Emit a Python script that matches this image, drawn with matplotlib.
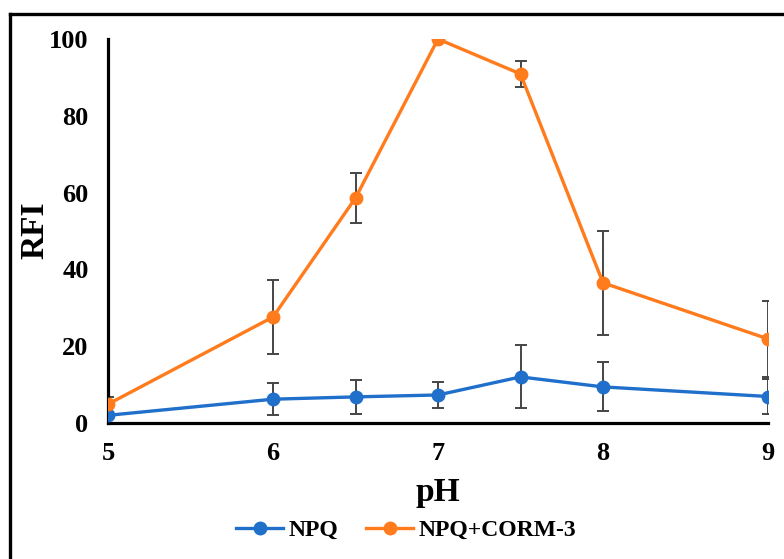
import matplotlib
matplotlib.use('Agg')
import matplotlib.pyplot as plt
from matplotlib.lines import Line2D

plt.rcParams['font.family'] = ['Liberation Serif', 'DejaVu Serif']
plt.rcParams['font.weight'] = 'bold'

# fluorescence vs pH
ph = [5, 6, 6.5, 7, 7.5, 8, 9]
npq = [2.0, 6.2, 6.8, 7.3, 12.0, 9.4, 6.9]
npq_err = [0.0, 4.1, 4.4, 3.4, 8.2, 6.4, 4.6]
corm = [4.9, 27.6, 58.6, 100.0, 90.9, 36.5, 21.9]
corm_err = [2.0, 9.7, 6.5, 0.0, 3.3, 13.5, 10.0]

blue = '#1f6fcb'
orange = '#ff7b1c'

fig = plt.figure(figsize=(7.84, 5.59), dpi=100)
ax = fig.add_axes([108/784, 1-423/559, (768-108)/784, (423-39)/559])

for y, err, c, lab in [(npq, npq_err, blue, 'NPQ'),
                       (corm, corm_err, orange, 'NPQ+CORM-3')]:
    ax.errorbar(ph, y, yerr=err, fmt='none', ecolor='#454545',
                elinewidth=1.4, capsize=4, capthick=1.4, zorder=2)
    ax.plot(ph, y, '-o', color=c, lw=2.4, ms=9, label=lab, zorder=3)

ax.set_xlim(5, 9)
ax.set_ylim(0, 100)
ax.set_xticks([5, 6, 7, 8, 9])
ax.set_yticks(range(0, 101, 20))
ax.tick_params(length=0, labelsize=19)
ax.tick_params(axis='y', pad=14)
ax.tick_params(axis='x', pad=14)
for s in ['top', 'right']:
    ax.spines[s].set_visible(False)
for s in ['left', 'bottom']:
    ax.spines[s].set_linewidth(2.3)

ax.set_xlabel('pH', fontsize=24, fontweight='bold', labelpad=8)
fig.text(35/784, 1-230/559, 'RFI', rotation=90, ha='center', va='center',
         fontsize=24, fontweight='bold')

fig.legend(loc='center', bbox_to_anchor=(406/784, 1-530/559), ncol=2,
           frameon=False, fontsize=17, handlelength=2.0,
           handletextpad=0.2, columnspacing=1.2)

# outer frame
fig.add_artist(Line2D([9.5/784, 9.5/784], [0, 1-14/559],
                      transform=fig.transFigure, color='black', lw=2.4))
fig.add_artist(Line2D([9.5/784, 1], [1-14/559, 1-14/559],
                      transform=fig.transFigure, color='black', lw=2.4))

fig.savefig('out.png', dpi=100)
